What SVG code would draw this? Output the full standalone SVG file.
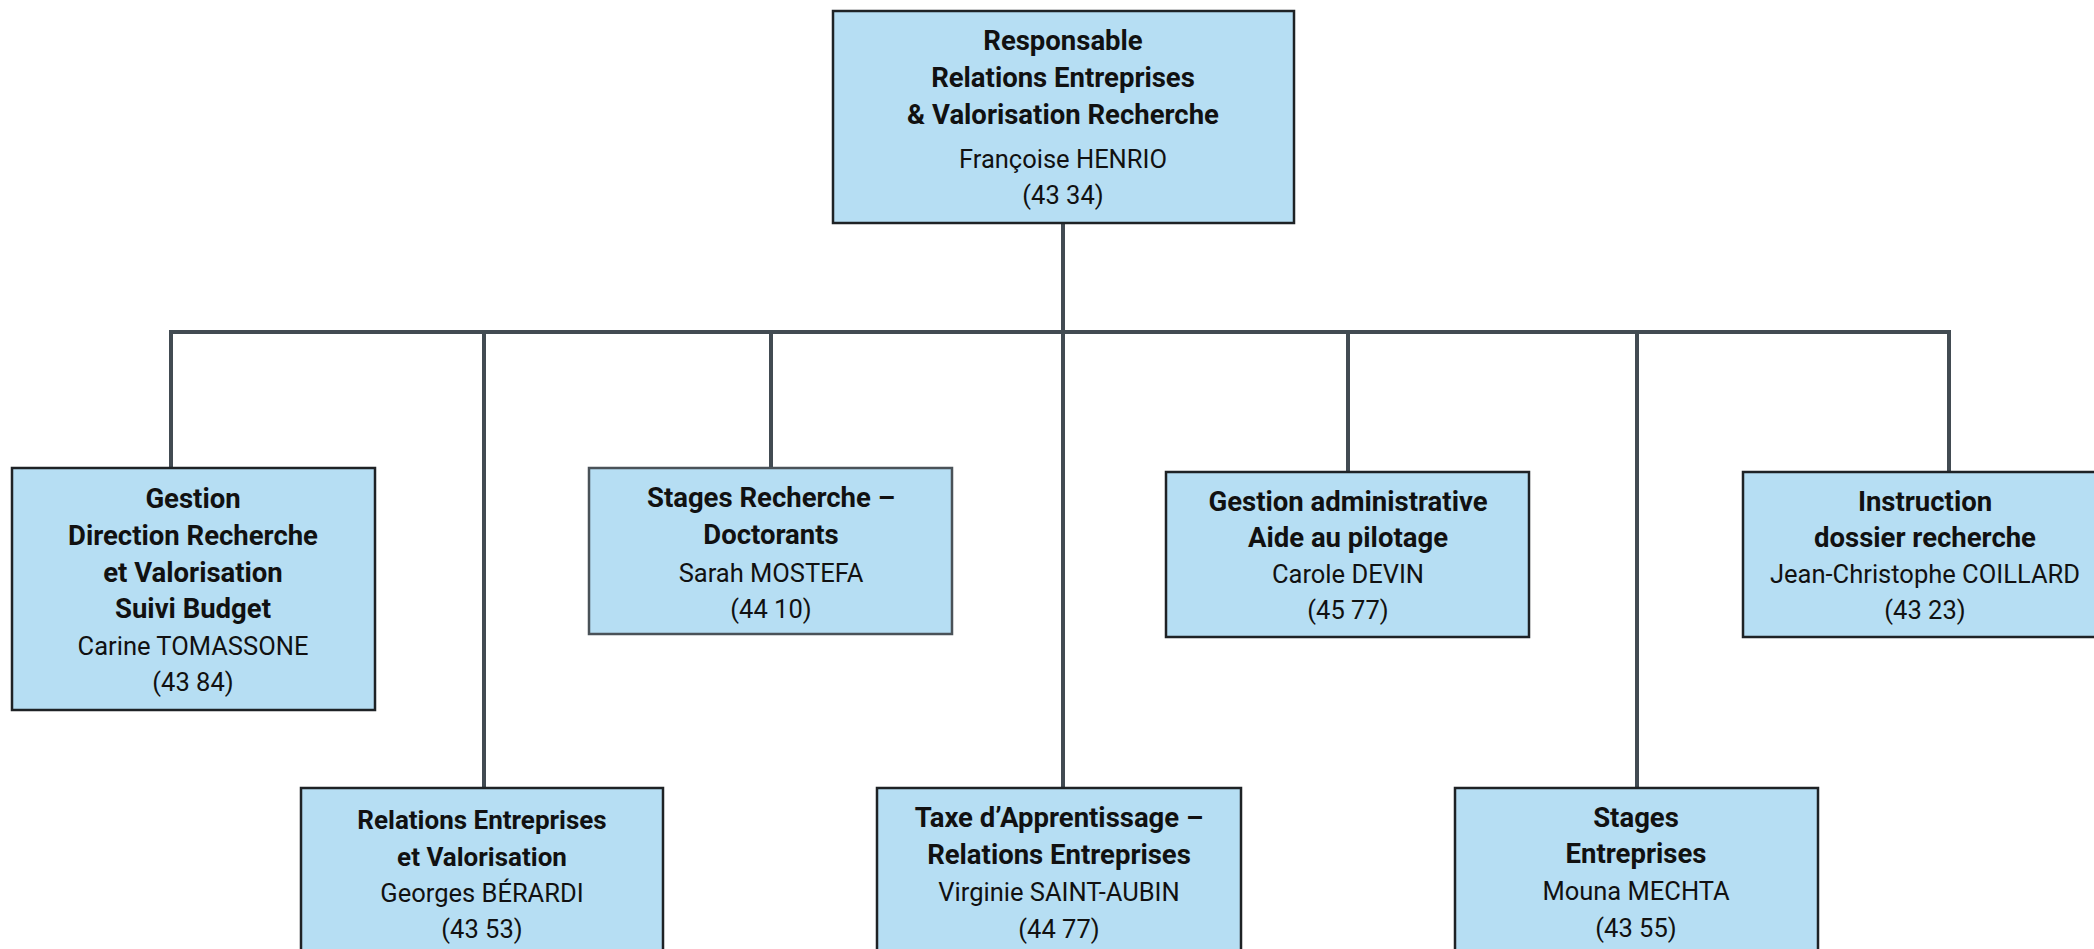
<svg xmlns="http://www.w3.org/2000/svg" width="2094" height="949" viewBox="0 0 2094 949">
<style>
.box{fill:#b6def3;stroke:#1e2225;stroke-width:2.5}
.b{font-family:Roboto,"Liberation Sans",sans-serif;font-weight:bold;font-size:27.5px;fill:#111;text-anchor:middle}
.r{font-family:Roboto,"Liberation Sans",sans-serif;font-size:25.5px;fill:#111;text-anchor:middle}
.c{stroke:#424b52;stroke-width:4;fill:none}
</style>
<rect width="2094" height="949" fill="#fff"/>
<g id="connectors">
<line class="c" x1="1063" y1="223" x2="1063" y2="788"/>
<polyline class="c" points="171,468 171,332 1949,332 1949,472"/>
<line class="c" x1="484" y1="332" x2="484" y2="788"/>
<line class="c" x1="771" y1="332" x2="771" y2="468"/>
<line class="c" x1="1348" y1="332" x2="1348" y2="472"/>
<line class="c" x1="1637" y1="332" x2="1637" y2="788"/>
</g>
<g id="n-top">
<rect class="box" x="833" y="11" width="461" height="212"/>
<text class="b" x="1063" y="50">Responsable</text>
<text class="b" x="1063" y="87">Relations Entreprises</text>
<text class="b" x="1063" y="124">&amp; Valorisation Recherche</text>
<text class="r" x="1063" y="168">Françoise HENRIO</text>
<text class="r" x="1063" y="204">(43 34)</text>
</g>
<g id="n-gestion">
<rect class="box" x="12" y="468" width="363" height="242"/>
<text class="b" x="193" y="508">Gestion</text>
<text class="b" x="193" y="545">Direction Recherche</text>
<text class="b" x="193" y="582">et Valorisation</text>
<text class="b" x="193" y="618">Suivi Budget</text>
<text class="r" x="193" y="655">Carine TOMASSONE</text>
<text class="r" x="193" y="691">(43 84)</text>
</g>
<g id="n-stages-recherche">
<rect class="box" x="589" y="468" width="363" height="166" style="stroke:#4a5258"/>
<text class="b" x="771" y="507">Stages Recherche –</text>
<text class="b" x="771" y="544">Doctorants</text>
<text class="r" x="771" y="582">Sarah MOSTEFA</text>
<text class="r" x="771" y="618">(44 10)</text>
</g>
<g id="n-gestion-admin">
<rect class="box" x="1166" y="472" width="363" height="165"/>
<text class="b" x="1348" y="511">Gestion administrative</text>
<text class="b" x="1348" y="547">Aide au pilotage</text>
<text class="r" x="1348" y="583">Carole DEVIN</text>
<text class="r" x="1348" y="619">(45 77)</text>
</g>
<g id="n-instruction">
<rect class="box" x="1743" y="472" width="364" height="165"/>
<text class="b" x="1925" y="511">Instruction</text>
<text class="b" x="1925" y="547">dossier recherche</text>
<text class="r" x="1925" y="583">Jean-Christophe COILLARD</text>
<text class="r" x="1925" y="619">(43 23)</text>
</g>
<g id="n-relations">
<rect class="box" x="301" y="788" width="362" height="180"/>
<text class="b" x="482" y="829" style="font-size:26px">Relations Entreprises</text>
<text class="b" x="482" y="866" style="font-size:26px">et Valorisation</text>
<text class="r" x="482" y="902">Georges BÉRARDI</text>
<text class="r" x="482" y="938">(43 53)</text>
</g>
<g id="n-taxe">
<rect class="box" x="877" y="788" width="364" height="180"/>
<text class="b" x="1059" y="827">Taxe d’Apprentissage –</text>
<text class="b" x="1059" y="864">Relations Entreprises</text>
<text class="r" x="1059" y="901">Virginie SAINT-AUBIN</text>
<text class="r" x="1059" y="938">(44 77)</text>
</g>
<g id="n-stages-entreprises">
<rect class="box" x="1455" y="788" width="363" height="180"/>
<text class="b" x="1636" y="827">Stages</text>
<text class="b" x="1636" y="863">Entreprises</text>
<text class="r" x="1636" y="900">Mouna MECHTA</text>
<text class="r" x="1636" y="937">(43 55)</text>
</g>
</svg>
